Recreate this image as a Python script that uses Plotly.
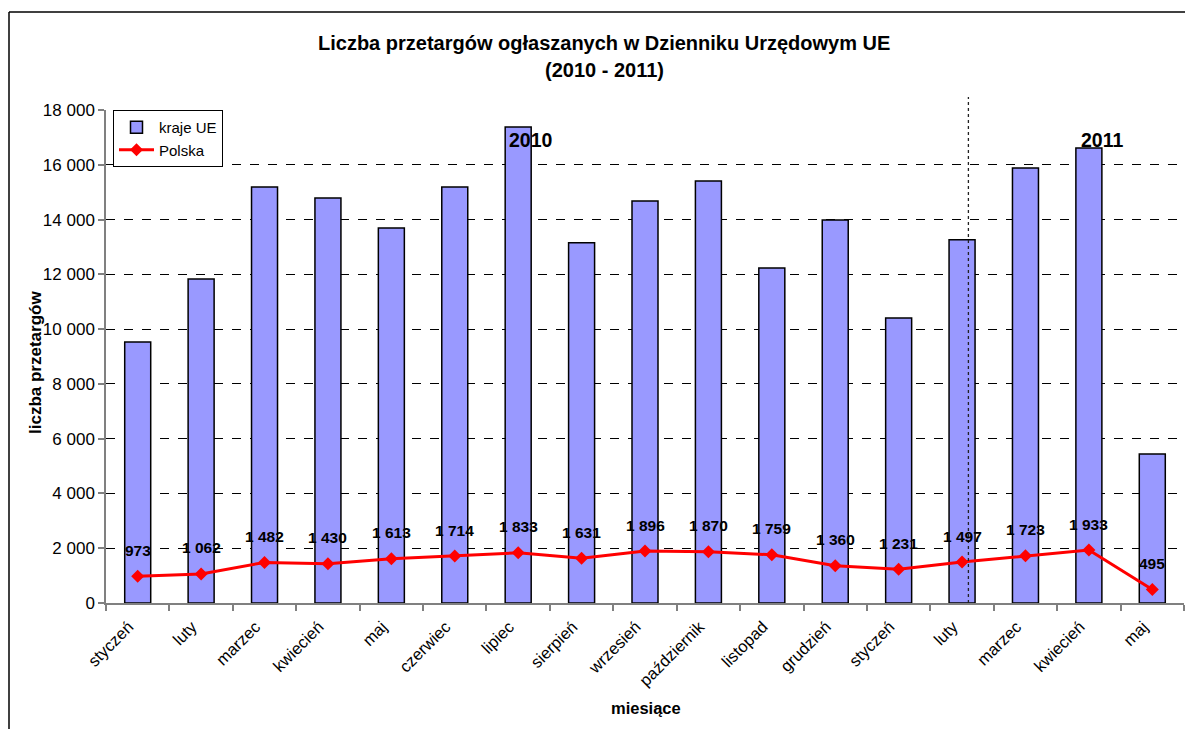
import plotly.graph_objects as go

months = ["styczeń", "luty", "marzec", "kwiecień", "maj", "czerwiec", "lipiec",
          "sierpień", "wrzesień", "październik", "listopad", "grudzień",
          "styczeń", "luty", "marzec", "kwiecień", "maj"]
eu_values = [9530, 11830, 15190, 14790, 13690, 15190, 17380, 13150, 14680,
             15410, 12230, 13980, 10410, 13260, 15880, 16610, 5440]
pl_values = [973, 1062, 1482, 1430, 1613, 1714, 1833, 1631, 1896, 1870, 1759,
             1360, 1231, 1497, 1723, 1933, 495]
y_ticks = [0, 2000, 4000, 6000, 8000, 10000, 12000, 14000, 16000, 18000]

def fmt(v):
    return f"{v:,}".replace(",", " ")

xs = list(range(len(months)))
FONT = "Liberation Sans, Arial, sans-serif"

# page has an 8px body margin: figure origin sits at (8, 8) in the window
OFF = 8
L, T = 106 - OFF, 110 - OFF
PW, PH = 1078, 493
W, H = 1193 - OFF, 729 - OFF

def px(xw):
    return (xw - OFF - L) / PW

def py(yw):
    return (T + PH - (yw - OFF)) / PH

fig = go.Figure()
fig.add_trace(go.Bar(
    x=xs, y=eu_values, name="kraje UE", width=0.41,
    marker=dict(color="#9999FF", line=dict(color="black", width=1.5)),
))
fig.add_trace(go.Scatter(
    x=xs, y=pl_values, name="Polska", mode="lines+markers",
    line=dict(color="#FF0000", width=3),
    marker=dict(symbol="diamond", size=10, color="#FF0000"),
))

annotations = []
for x, v in zip(xs, pl_values):
    annotations.append(dict(
        x=x, y=v, xref="x", yref="y", text=f"<b>{fmt(v)}</b>", showarrow=False,
        yanchor="middle", yshift=26, font=dict(family=FONT, size=15.5, color="black"),
    ))
annotations.append(dict(x=6.2, y=16900, xref="x", yref="y", text="<b>2010</b>", showarrow=False,
                        font=dict(family=FONT, size=19.5, color="black")))
annotations.append(dict(x=15.2, y=16900, xref="x", yref="y", text="<b>2011</b>", showarrow=False,
                        font=dict(family=FONT, size=19.5, color="black")))
annotations.append(dict(x=px(604), y=py(43), xref="paper", yref="paper",
                        text="<b>Liczba przetargów ogłaszanych w Dzienniku Urzędowym UE</b>",
                        showarrow=False, yanchor="middle",
                        font=dict(family=FONT, size=20, color="black")))
annotations.append(dict(x=px(604), y=py(70), xref="paper", yref="paper",
                        text="<b>(2010 - 2011)</b>", showarrow=False, yanchor="middle",
                        font=dict(family=FONT, size=20, color="black")))
annotations.append(dict(x=px(646), y=py(708), xref="paper", yref="paper",
                        text="<b>miesiące</b>", showarrow=False, yanchor="middle",
                        font=dict(family=FONT, size=16.5, color="black")))
annotations.append(dict(x=px(35), y=py(363), xref="paper", yref="paper",
                        text="<b>liczba przetargów</b>", showarrow=False, textangle=-90,
                        xanchor="center", yanchor="middle",
                        font=dict(family=FONT, size=17, color="black")))

shapes = [
    dict(type="line", xref="paper", yref="paper", x0=px(9), x1=1.2,
         y0=py(12), y1=py(12), line=dict(color="black", width=1.5)),
    dict(type="line", xref="paper", yref="paper", x0=px(9), x1=px(9),
         y0=py(12), y1=-0.4, line=dict(color="black", width=1.5)),
    dict(type="line", xref="x", yref="paper", x0=13.1, x1=13.1, y0=0, y1=py(97),
         line=dict(color="#222222", width=1.3, dash="dot")),
]

fig.update_layout(
    width=W, height=H,
    margin=dict(l=L, r=W - L - PW, t=T, b=H - T - PH),
    paper_bgcolor="white", plot_bgcolor="white",
    font=dict(family=FONT, size=15, color="black"),
    showlegend=True,
    legend=dict(x=px(113), y=1, xanchor="left", yanchor="top",
                bgcolor="white", bordercolor="black", borderwidth=1,
                font=dict(family=FONT, size=15, color="black"),
                itemwidth=35, tracegroupgap=0),
    annotations=annotations, shapes=shapes,
    bargap=0.59,
)
fig.update_xaxes(
    range=[-0.5, 16.5], tickmode="array", tickvals=xs, ticktext=months,
    tickangle=-45, ticks="", showgrid=False,
    showline=True, linecolor="#808080", linewidth=1.5,
    tickfont=dict(family=FONT, size=16.5, color="black"),
    ticklabelshift=-9, ticklabelstandoff=6,
    minor=dict(tickmode="array", tickvals=[i - 0.5 for i in range(len(months) + 1)],
               ticks="outside", ticklen=6, tickcolor="#808080", tickwidth=1.5, showgrid=False),
)
fig.update_yaxes(
    range=[0, 18000], tickmode="array", tickvals=y_ticks,
    ticktext=[fmt(v) for v in y_ticks],
    ticks="outside", ticklen=6, tickcolor="#808080", tickwidth=1.5,
    showgrid=True, gridcolor="black", griddash="dash", gridwidth=1,
    showline=True, linecolor="#808080", linewidth=1.5, zeroline=False,
    tickfont=dict(family=FONT, size=17, color="black"),
)

fig.write_html("out.html")
